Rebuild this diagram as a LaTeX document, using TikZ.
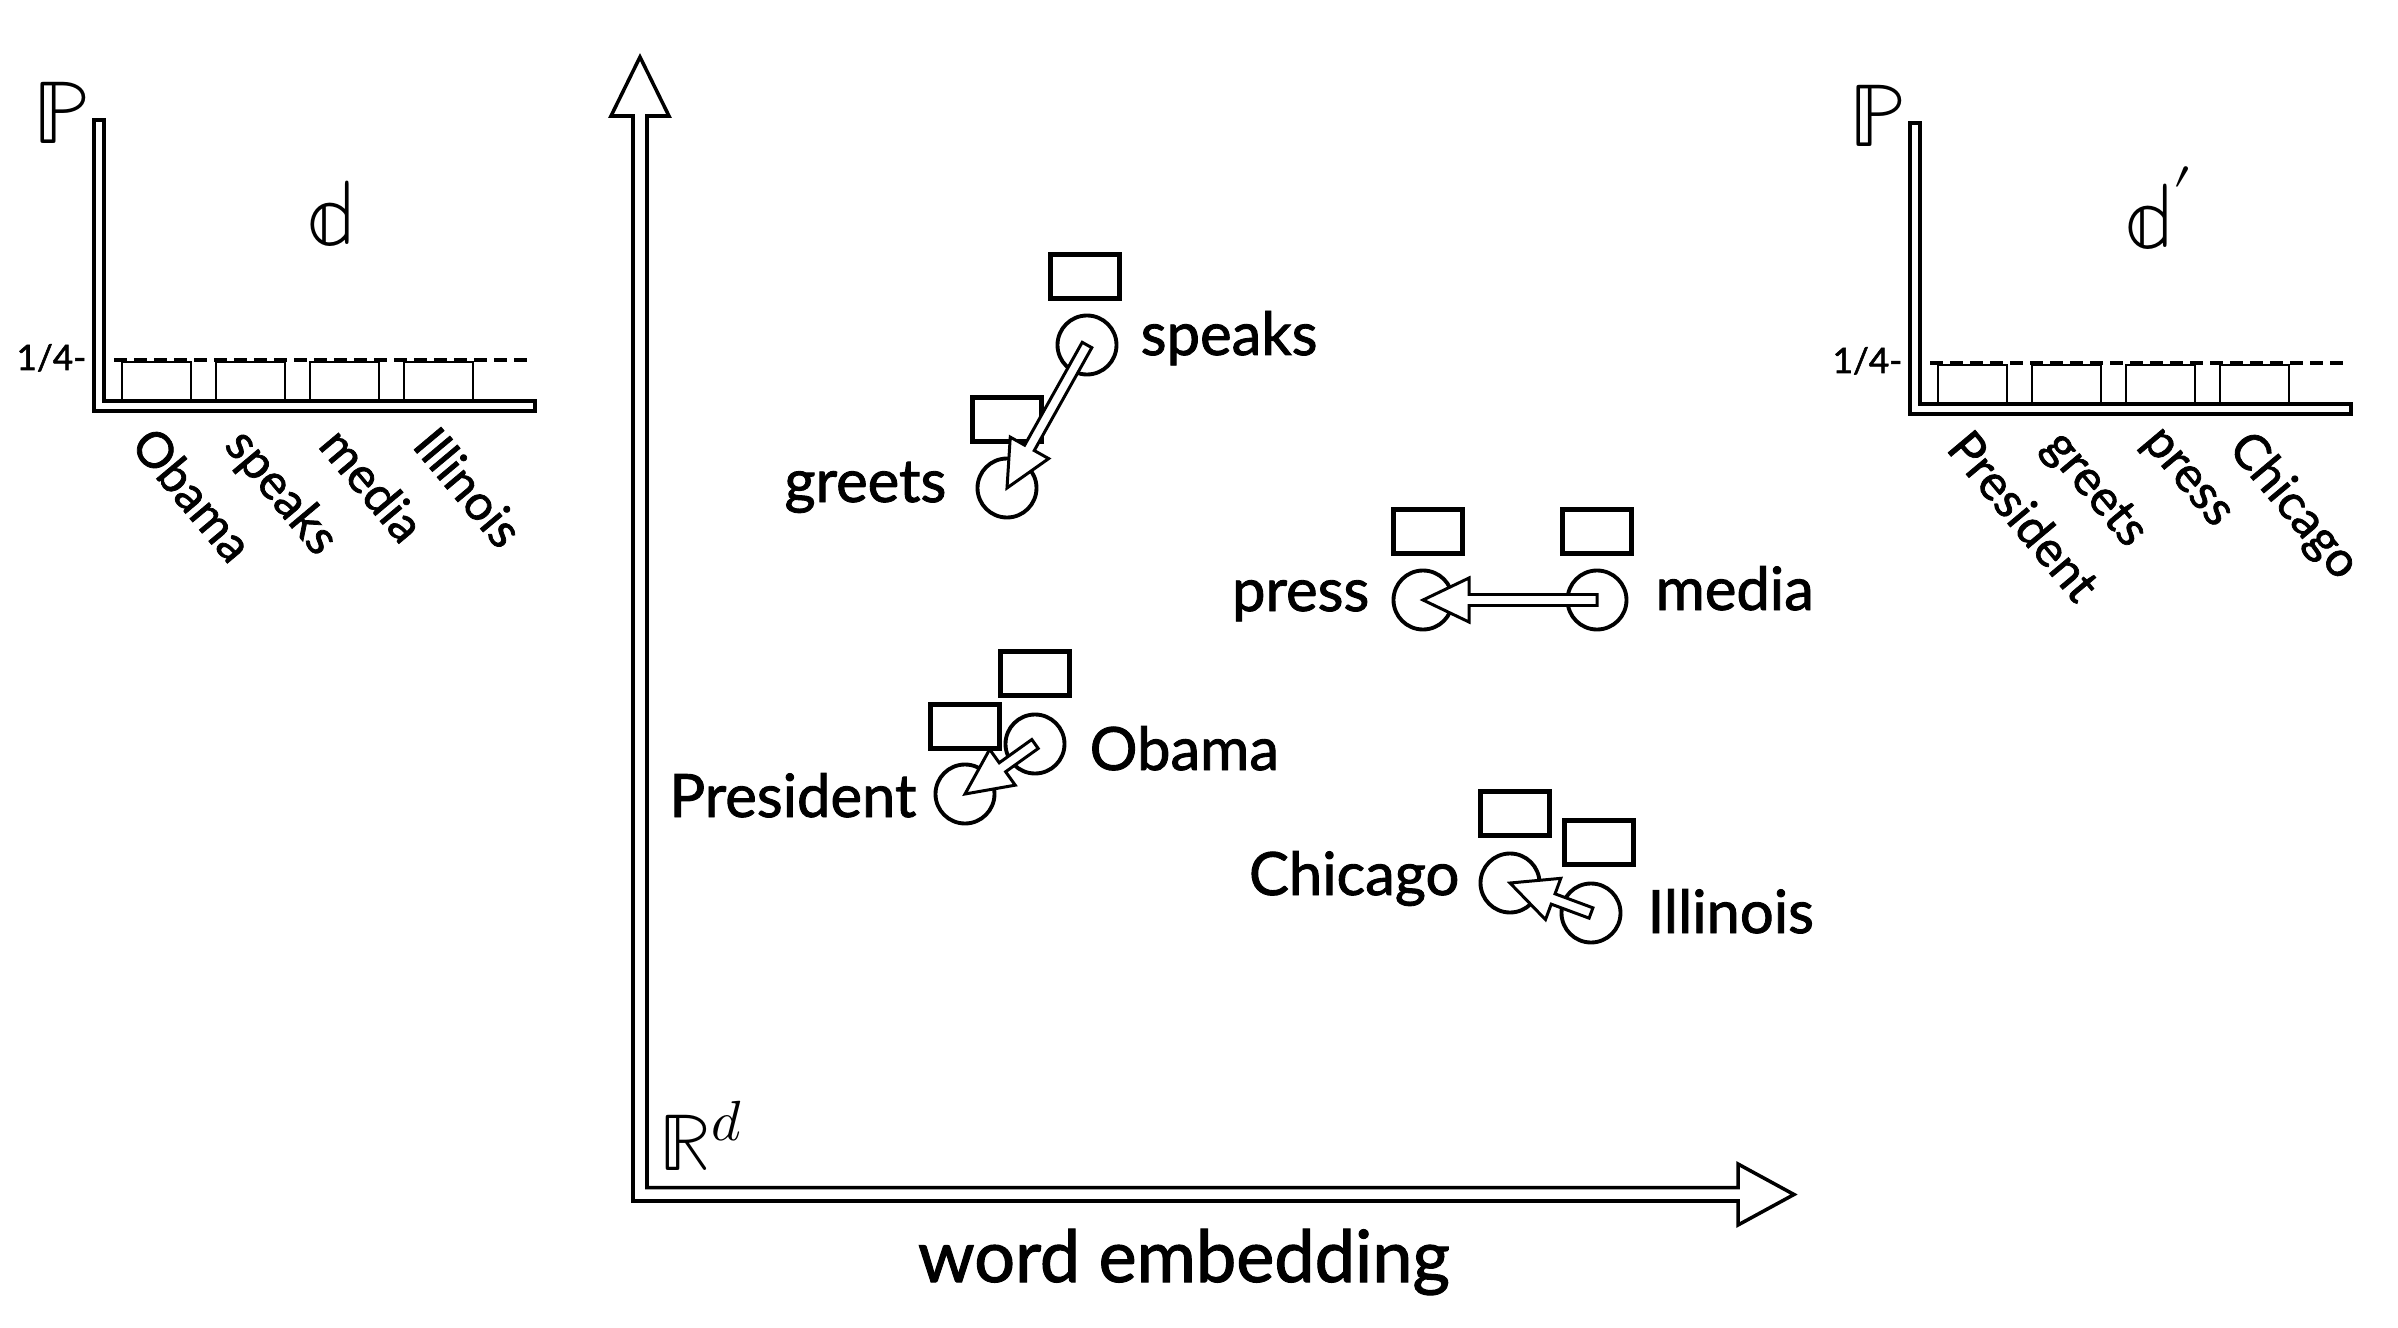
\documentclass[tikz,border=0pt]{standalone}
\usepackage{unicode-math}
\setmainfont{Lato}[FakeBold=1.5]
\usetikzlibrary{calc,positioning}

\tikzset{
  word/.style={font=\fontsize{17}{20}\selectfont, inner sep=0pt},
  point/.style={circle, draw, line width=1.1pt, minimum size=0.59cm, inner sep=0pt},
  vecbox/.style={rectangle, draw, line width=1.4pt, minimum width=0.69cm, minimum height=0.44cm, inner sep=0pt},
  axisline/.style={line width=1pt, line join=miter},
  barlabel/.style={font=\fontsize{14}{16}\selectfont, inner sep=0pt, rotate=-50, anchor=north west},
  bigmath/.style={font=\fontsize{25.5}{29}\selectfont, inner sep=0pt},
  tick/.style={font=\fontsize{10}{11}\selectfont, inner sep=0pt, anchor=base east},
}

% hollow arrow from the centre of one point to the centre of another
\newcommand{\shiftarrow}[2]{%
  \coordinate (hb) at ($(#2.center)!0.46cm!(#1.center)$);
  \draw[line width=0.85pt, fill=white, line join=miter]
    ($(#1.center)!0.055cm!90:(#2.center)$) -- ($(hb)!0.055cm!90:(#2.center)$)
    -- ($(hb)!0.22cm!90:(#2.center)$) -- (#2.center)
    -- ($(hb)!0.22cm!-90:(#2.center)$) -- ($(hb)!0.055cm!-90:(#2.center)$)
    -- ($(#1.center)!0.055cm!-90:(#2.center)$) -- cycle;
}

\begin{document}
\begin{tikzpicture}
  \useasboundingbox (0,0) rectangle (23.98,-13.28);

  % Distribution d
  \begin{scope}
    \draw[axisline] (0.94,-1.20) -- (1.04,-1.20) -- (1.04,-4.01) -- (5.35,-4.01) -- (5.35,-4.11) -- (0.94,-4.11) -- cycle;
    \foreach \x/\w in {1.22/Obama,2.16/speaks,3.10/media,4.04/Illinois}{
      \draw[line width=0.6pt] (\x,-4.01) rectangle ++(0.69,0.39);
      \node[barlabel] (lbl-\w) at (\x+0.35,-4.22) {\w};
    }
    \draw[line width=1.1pt, dash pattern=on 0.13cm off 0.07cm] (1.14,-3.60) -- (5.30,-3.60);
    \node[bigmath, anchor=base west] (p-left) at (0.33,-1.44) {$\mathbb{P}$};
    \node[bigmath, font=\fontsize{26}{29}\selectfont, anchor=base west] (d-left) at (3.08,-2.45) {$\mathbb{d}$};
    \node[tick] (q-left) at (0.87,-3.70) {1/4-};
  \end{scope}

  % Distribution d'
  \begin{scope}[shift={(18.16,-0.03)}]
    \draw[axisline] (0.94,-1.20) -- (1.04,-1.20) -- (1.04,-4.01) -- (5.35,-4.01) -- (5.35,-4.11) -- (0.94,-4.11) -- cycle;
    \foreach \x/\w in {1.22/President,2.16/greets,3.10/press,4.04/Chicago}{
      \draw[line width=0.6pt] (\x,-4.01) rectangle ++(0.69,0.39);
      \node[barlabel] (lbl-\w) at (\x+0.35,-4.22) {\w};
    }
    \draw[line width=1.1pt, dash pattern=on 0.13cm off 0.07cm] (1.14,-3.60) -- (5.30,-3.60);
    \node[bigmath, anchor=base west] (p-right) at (0.33,-1.44) {$\mathbb{P}$};
    \node[bigmath, font=\fontsize{26}{29}\selectfont, anchor=base west] (d-right) at (3.10,-2.45) {$\mathbb{d}'$};
    \node[tick] (q-right) at (0.87,-3.70) {1/4-};
  \end{scope}

  % Embedding space axes
  \draw[axisline, fill=white] (6.33,-1.16) -- (6.11,-1.16) -- (6.40,-0.57) -- (6.69,-1.16) -- (6.47,-1.16)
    -- (6.47,-11.875) -- (17.38,-11.875) -- (17.38,-11.64) -- (17.94,-11.945) -- (17.38,-12.25)
    -- (17.38,-12.01) -- (6.33,-12.01) -- cycle;
  \node[font=\fontsize{23}{27}\selectfont, inner sep=0pt, anchor=base west] (space) at (6.59,-11.70) {$\mathbb{R}^d$};
  \node[font=\fontsize{20.5}{24}\selectfont, inner sep=0pt, anchor=base] (xlabel) at (11.84,-12.82) {word embedding};

  % Words as points
  \node[point] (speaks) at (10.87,-3.45) {};
  \node[point] (greets) at (10.07,-4.88) {};
  \node[point] (obama) at (10.35,-7.44) {};
  \node[point] (president) at (9.65,-7.94) {};
  \node[point] (media) at (15.97,-6.00) {};
  \node[point] (press) at (14.23,-6.00) {};
  \node[point] (chicago) at (15.10,-8.83) {};
  \node[point] (illinois) at (15.91,-9.13) {};

  % Their vectors
  \node[vecbox, above=1.3mm of speaks, xshift=-0.02cm] (speaks-v) {};
  \node[vecbox, above=1.3mm of greets] (greets-v) {};
  \node[vecbox, above=1.5mm of obama] (obama-v) {};
  \node[vecbox, above=1.2mm of president] (president-v) {};
  \node[vecbox, above=1.3mm of media] (media-v) {};
  \node[vecbox, above=1.3mm of press, xshift=0.05cm] (press-v) {};
  \node[vecbox, above=1.35mm of chicago, xshift=0.05cm] (chicago-v) {};
  \node[vecbox, above=1.45mm of illinois, xshift=0.08cm] (illinois-v) {};

  % Labels
  \node[word, anchor=base west] (speaks-l) at (11.40,-3.55) {speaks};
  \node[word, anchor=base east] (greets-l) at (9.47,-5.02) {greets};
  \node[word, anchor=base west] (obama-l) at (10.89,-7.70) {Obama};
  \node[word, anchor=base east] (president-l) at (9.17,-8.17) {President};
  \node[word, anchor=base west] (media-l) at (16.55,-6.10) {media};
  \node[word, anchor=base east] (press-l) at (13.70,-6.11) {press};
  \node[word, anchor=base east] (chicago-l) at (14.60,-8.95) {Chicago};
  \node[word, anchor=base west] (illinois-l) at (16.47,-9.33) {Illinois};

  % Moves
  \shiftarrow{speaks}{greets}
  \shiftarrow{obama}{president}
  \shiftarrow{media}{press}
  \shiftarrow{illinois}{chicago}
\end{tikzpicture}
\end{document}
